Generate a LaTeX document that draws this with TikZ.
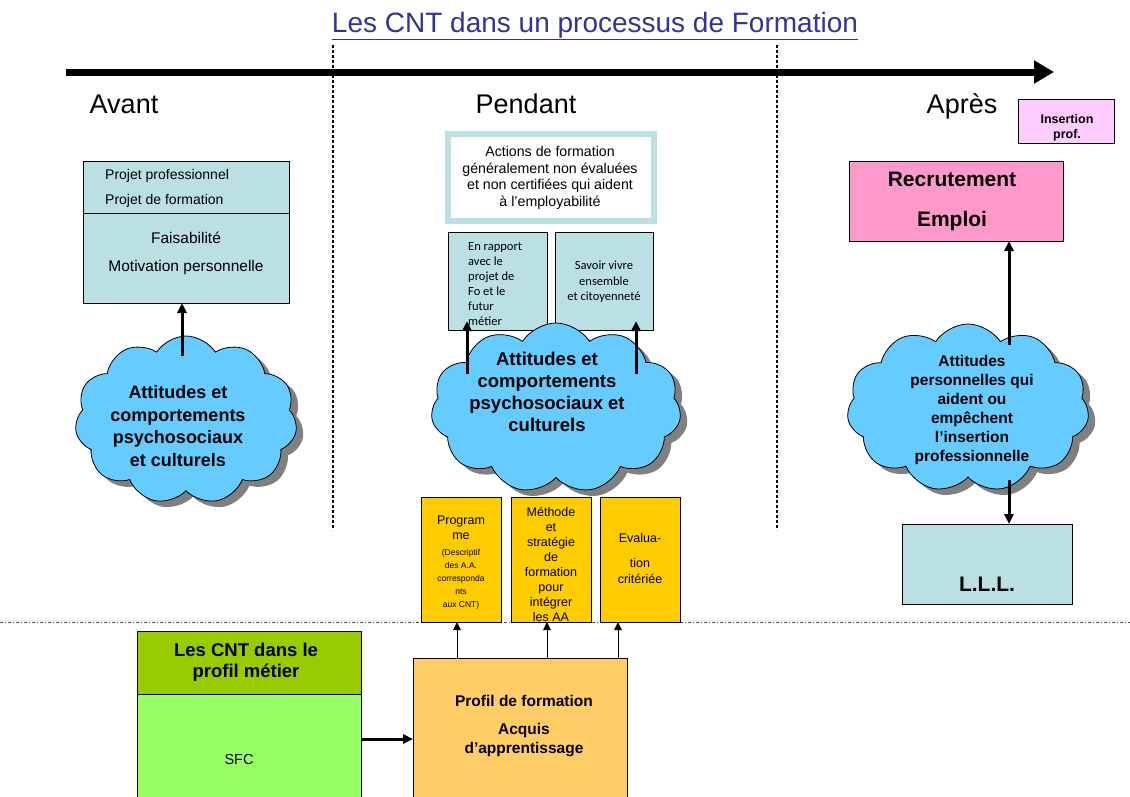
\documentclass[tikz,border=0pt]{standalone}
\usepackage{fontspec}
\setmainfont{Liberation Sans}
\newfontfamily\carlito{Carlito}
\usetikzlibrary{shapes.symbols,shadows,arrows.meta}

\definecolor{cntteal}{RGB}{187,224,227}
\definecolor{cntcloud}{RGB}{102,204,255}
\definecolor{cntyellow}{RGB}{255,204,0}
\definecolor{cntorange}{RGB}{255,204,102}
\definecolor{cntpink}{RGB}{255,153,204}
\definecolor{cntlilac}{RGB}{255,204,255}
\definecolor{cntolive}{RGB}{153,204,0}
\definecolor{cntlime}{RGB}{153,255,102}
\definecolor{cnttitle}{RGB}{51,51,153}

\newcommand{\fs}[2]{\fontsize{#1}{#2}\selectfont}

\begin{document}
\begin{tikzpicture}[x=1pt,y=-1pt,
  box/.style={draw, line width=1pt, inner sep=0pt, outer sep=0pt, anchor=north west},
  bubble/.style={cloud, cloud puffs=11, cloud puff arc=115, cloud ignores aspect, draw, line width=0.8pt, fill=cntcloud,
    drop shadow={shadow xshift=7pt, shadow yshift=-6pt, fill=black!50, opacity=1}},
  fat/.style={line width=3pt, -{Triangle[length=10pt,width=9pt]}},
  thin/.style={line width=1pt, -{Triangle[length=8pt,width=7.5pt]}},
  lbl/.style={inner sep=0pt, align=center},
]
\path[use as bounding box, fill=white] (0,0) rectangle (1130,796);

%Line: time axis
\coordinate (tl) at (66,72);
\coordinate (tr) at (1054,72);
\draw[line width=7pt, -{Triangle[length=20pt,width=22pt]}] (tl) -- (tr);

%Line: period separators
\foreach \x/\nm in {333/sepa,777/sepb} {
  \coordinate (\nm top) at (\x,45);
  \coordinate (\nm bot) at (\x,530);
  \draw[line width=2pt, dash pattern=on 2.5pt off 2.5pt] (\nm top) -- (\nm bot);
}

%Line: base line
\coordinate (basel) at (0,622);
\coordinate (baser) at (1130,622);
\draw[black!70, line width=0.8pt, dash pattern=on 3pt off 2pt on 1pt off 2pt] (basel) -- (baser);

% Text Node
\node[lbl, text=cnttitle, font=\fs{28}{32}] (title) at (595,26) {\underline{Les CNT dans un processus de Formation}};
\node[lbl, anchor=base, font=\fs{27}{30}] (avant) at (124,113.5) {Avant};
\node[lbl, anchor=base, font=\fs{27}{30}] (pendant) at (526,113.5) {Pendant};
\node[lbl, anchor=base, font=\fs{27}{30}] (apres) at (962,113.5) {Après};

%Shape: Rectangle
\node[box, fill=cntlilac, minimum width=96, minimum height=44] (insertion) at (1018,99) {};
\node[lbl, font=\bfseries\fs{12.5}{14.5}] (insertiontxt) at (1067,128) {Insertion\\prof.};

%% Avant
\node[box, fill=cntteal, minimum width=206, minimum height=52] (projets) at (83,161) {};
\node[box, fill=cntteal, minimum width=206, minimum height=90] (motiv) at (projets.south west) {};
\node[lbl, anchor=west, align=left, font=\fs{14}{25}] (projetstxt) at (105,188) {Projet professionnel\\Projet de formation};
\node[lbl, font=\fs{15.5}{28}] (motivtxt) at (186,253) {Faisabilité\\Motivation personnelle};

\node[bubble, minimum width=222, minimum height=168] (cloudavant) at (186,420) {};
\node[lbl, font=\bfseries\fs{18}{22.5}] (cloudavanttxt) at (178,426) {Attitudes et\\comportements\\psychosociaux\\et culturels};
\coordinate (avfrom) at (182,356);
\draw[fat] (avfrom) -- (avfrom |- motiv.south);

%% Pendant
\node[box, draw=cntteal, line width=6pt, fill=white, minimum width=206, minimum height=87] (actions) at (448,134) {};
\node[lbl, font=\fs{14.2}{16.5}] (actionstxt) at (550,178) {Actions de formation\\généralement non évaluées\\et non certifiées qui aident\\à l'employabilité};

\node[box, fill=cntteal, minimum width=99, minimum height=98] (rapport) at (448,232) {};
\node[box, fill=cntteal, minimum width=98, minimum height=98] (savoir) at (555,232) {};
\node[lbl, anchor=west, align=left, font=\carlito\fs{12.5}{15}] (rapporttxt) at (468,284) {En rapport\\avec le\\projet de\\Fo et le\\futur\\métier};
\node[lbl, font=\carlito\fs{12.5}{15.5}] (savoirtxt) at (604,282) {Savoir vivre\\ensemble\\et citoyenneté};

\node[bubble, minimum width=250, minimum height=170] (cloudpendant) at (556,408) {};
\node[lbl, font=\bfseries\fs{18.5}{22}] (cloudpendanttxt) at (547,392) {Attitudes et\\comportements\\psychosociaux et\\culturels};
\coordinate (pafrom) at (467,374);
\coordinate (pato) at (467,321);
\coordinate (pbfrom) at (636,374);
\coordinate (pbto) at (636,321);
\draw[fat] (pafrom) -- (pato);
\draw[fat] (pbfrom) -- (pbto);

\foreach \x/\nm in {421/prog,511/meth,600/eval}
  \node[box, fill=cntyellow, minimum width=80, minimum height=125] (\nm) at (\x,497) {};
\node[lbl, font=\fs{12.5}{15}] (progtxt) at (461,528) {Program\\me};
\node[lbl, font=\fs{8.5}{13}] (progsubtxt) at (461,579) {(Descriptif\\des A.A.\\corresponda\\nts\\aux CNT)};
\node[lbl, font=\fs{12.5}{15}] (methtxt) at (551,564) {Méthode\\et\\stratégie\\de\\formation\\pour\\intégrer\\les AA};
\node[lbl, font=\fs{12.5}{16}] (evaltxt) at (640,559) {Evalua-\\[9pt]tion\\critériée};

%% Profil
\node[box, fill=cntorange, minimum width=214, minimum height=150] (profil) at (413,658) {};
\node[lbl, font=\bfseries\fs{15.5}{19}] (profiltxt) at (524,701) {Profil de formation};
\node[lbl, font=\bfseries\fs{15.5}{19}] (acquistxt) at (524,740) {Acquis\\d’apprentissage};
\foreach \x/\nm in {457/prog,547/meth,618/eval} {
  \coordinate (a\nm) at (\x,0);
  \draw[thin] (profil.north -| a\nm) -- (\nm.south -| a\nm);
}

\node[box, fill=cntolive, minimum width=224, minimum height=63] (cntprofil) at (137,631) {};
\node[box, fill=cntlime, minimum width=224, minimum height=120] (sfc) at (cntprofil.south west) {};
\node[lbl, font=\bfseries\fs{18.5}{21}] (cntprofiltxt) at (246,662) {Les CNT dans le\\profil métier};
\node[lbl, font=\fs{14.5}{18}] (sfctxt) at (239,759) {SFC};
\coordinate (sfcout) at (361,739);
\draw[fat] (sfcout) -- (sfcout -| profil.west);

%% Apres
\node[box, fill=cntpink, minimum width=214, minimum height=80] (recrut) at (849,161) {};
\node[lbl, font=\bfseries\fs{21}{40}] (recruttxt) at (952,201) {Recrutement\\Emploi};

\node[box, fill=cntteal, minimum width=170, minimum height=80] (lll) at (902,524) {};
\node[lbl, font=\bfseries\fs{21}{24}] (llltxt) at (987,584) {L.L.L.};

\node[bubble, minimum width=242, minimum height=168] (cloudapres) at (968,408) {};
\node[lbl, font=\bfseries\fs{15.5}{19}] (cloudaprestxt) at (972,410) {Attitudes\\personnelles qui\\aident ou\\empêchent\\l’insertion\\professionnelle};
\coordinate (apup) at (1009,345);
\coordinate (apdown) at (1009,480);
\draw[fat] (apup) -- (apup |- recrut.south);
\draw[fat] (apdown) -- (apdown |- lll.north);
\end{tikzpicture}
\end{document}
